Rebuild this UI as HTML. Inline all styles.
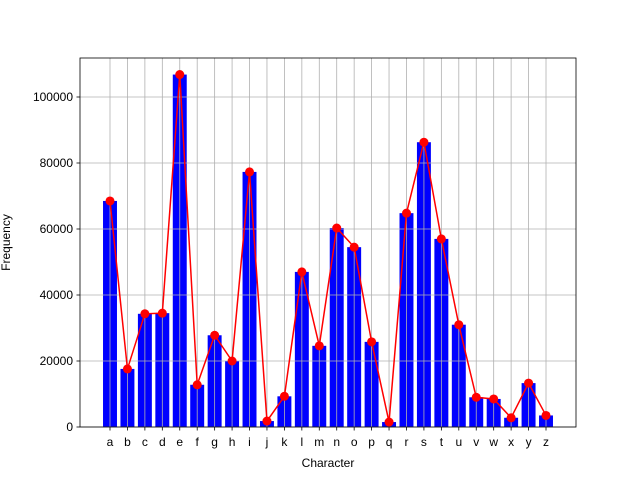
<!DOCTYPE html>
<html><head><meta charset="utf-8"><style>body{margin:0;background:#fff}svg{display:block;font-family:"Liberation Sans","DejaVu Sans",sans-serif}</style></head>
<body>
<svg id="chart" width="640" height="480"></svg>
<script>
const categories=["a","b","c","d","e","f","g","h","i","j","k","l","m","n","o","p","q","r","s","t","u","v","w","x","y","z"];
const frequencies=[68500,17600,34300,34500,106800,12800,27800,20000,77300,1800,9300,47000,24600,60300,54500,25800,1500,64800,86300,57000,31000,9000,8500,2800,13300,3500];
const yTicks=[0,20000,40000,60000,80000,100000];
const L=80,R=576,T=58,B=427;
const xmin=-1.72,xmax=26.72,ymax=111818;
const sx=v=>L+(v-xmin)/(xmax-xmin)*(R-L);
const sy=v=>B-v/ymax*(B-T);
const svg=document.getElementById('chart');const NS='http://www.w3.org/2000/svg';
function mk(t,a,p){const e=document.createElementNS(NS,t);for(const k in a)e.setAttribute(k,a[k]);(p||svg).appendChild(e);return e;}
// bars
const bw=(R-L)/(xmax-xmin)*0.8;
frequencies.forEach((v,i)=>{const b=mk('rect',{x:sx(i)-bw/2,y:sy(v),width:bw,height:B-sy(v),fill:'#0000ff'});

});
// grid
categories.forEach((c,i)=>{const g=mk('line',{x1:sx(i),x2:sx(i),y1:T,y2:B,stroke:'#b0b0b0','stroke-width':0.8});

});
yTicks.forEach(v=>{const g=mk('line',{x1:L,x2:R,y1:sy(v),y2:sy(v),stroke:'#b0b0b0','stroke-width':0.8});


const t=mk('line',{x1:L-3.5,x2:L,y1:sy(v),y2:sy(v),stroke:'#000','stroke-width':0.8});


const l=mk('text',{x:L-7,y:sy(v)+4,'text-anchor':'end','font-size':12});l.textContent=v;

});
// line
const pl=mk('polyline',{points:frequencies.map((v,i)=>sx(i)+','+sy(v)).join(' '),fill:'none',stroke:'#ff0000','stroke-width':1.5});


frequencies.forEach((v,i)=>{const c=mk('circle',{cx:sx(i),cy:sy(v),r:4.5,fill:'#ff0000'});

});
// x ticks
categories.forEach((c,i)=>{const t=mk('line',{x1:sx(i),x2:sx(i),y1:B,y2:B+3.5,stroke:'#000','stroke-width':0.8});


const l=mk('text',{x:sx(i),y:B+19,'text-anchor':'middle','font-size':12});l.textContent=c;

});
const fr=mk('rect',{x:L,y:T,width:R-L,height:B-T,fill:'none',stroke:'#000','stroke-width':0.8});


const xt=mk('text',{x:(L+R)/2,y:467,'text-anchor':'middle','font-size':12});xt.textContent='Character';


const yt=mk('text',{x:0,y:0,'text-anchor':'middle','font-size':12,transform:'translate(10,'+((T+B)/2)+') rotate(-90)'});yt.textContent='Frequency';


</script>
</body></html>
